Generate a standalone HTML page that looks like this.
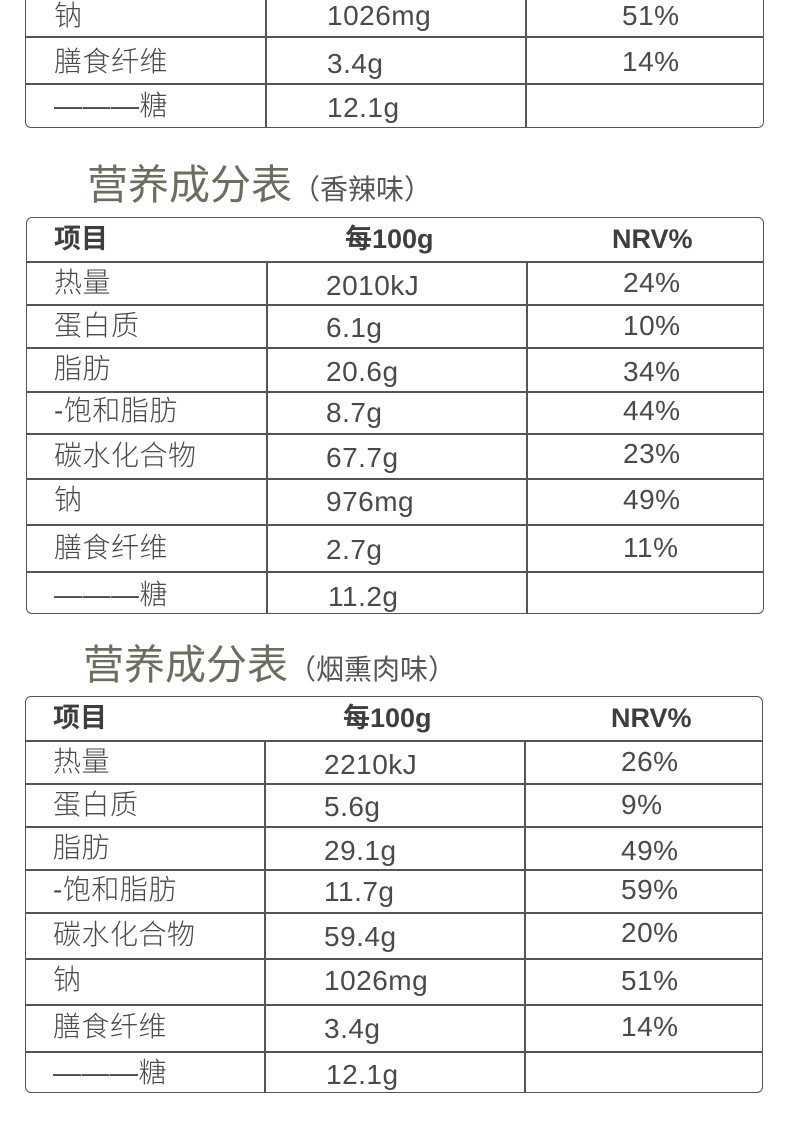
<!DOCTYPE html>
<html><head><meta charset="utf-8"><style>
body{margin:0;width:790px;height:1126px;background:#fff;position:relative;overflow:hidden;font-family:"Liberation Sans","Noto Sans CJK SC",sans-serif;color:#4a4a4a}
.b{position:absolute;border:1.5px solid #555;border-radius:6px;box-sizing:border-box}
.h{position:absolute;height:1.5px;background:#555}
.v{position:absolute;width:1.5px;background:#555}
.t{position:absolute;font-size:28px;line-height:30px;white-space:nowrap;font-weight:300;letter-spacing:0.5px}
.hd{position:absolute;font-size:27px;line-height:30px;font-weight:bold;color:#3e3e3e;white-space:nowrap}
.ti{position:absolute;font-size:41px;line-height:46px;color:#6b6e5e;white-space:nowrap}
.ti span{font-size:28px;color:#555}
</style></head><body>
<div class="b" style="left:25px;top:-20px;width:739px;height:148px"></div>
<div class="h" style="left:26px;top:36px;width:737px"></div>
<div class="h" style="left:26px;top:83px;width:737px"></div>
<div class="v" style="left:265px;top:0;height:127px"></div>
<div class="v" style="left:525px;top:0;height:127px"></div>
<div class="t" style="left:54px;top:1px">钠</div><div class="t" style="left:327px;top:1px">1026mg</div><div class="t" style="left:622px;top:1px">51%</div>
<div class="t" style="left:54px;top:47px">膳食纤维</div><div class="t" style="left:327px;top:49px">3.4g</div><div class="t" style="left:622px;top:47px">14%</div>
<div class="t" style="left:54px;top:91px">———糖</div><div class="t" style="left:327px;top:93px">12.1g</div>

<div class="ti" style="left:87px;top:162px">营养成分表<span>（香辣味）</span></div>
<div class="b" style="left:26px;top:217px;width:738px;height:397px"></div>
<div class="h" style="left:27px;top:261px;width:736px"></div>
<div class="h" style="left:27px;top:304px;width:736px"></div>
<div class="h" style="left:27px;top:347px;width:736px"></div>
<div class="h" style="left:27px;top:391px;width:736px"></div>
<div class="h" style="left:27px;top:433px;width:736px"></div>
<div class="h" style="left:27px;top:478px;width:736px"></div>
<div class="h" style="left:27px;top:524px;width:736px"></div>
<div class="h" style="left:27px;top:571px;width:736px"></div>
<div class="v" style="left:266px;top:261px;height:352px"></div>
<div class="v" style="left:526px;top:261px;height:352px"></div>
<div class="hd" style="left:54px;top:224px">项目</div><div class="hd" style="left:345px;top:224px">每100g</div><div class="hd" style="left:612px;top:224px">NRV%</div>
<div class="t" style="left:54px;top:268px">热量</div><div class="t" style="left:326px;top:271px">2010kJ</div><div class="t" style="left:623px;top:268px">24%</div>
<div class="t" style="left:54px;top:311px">蛋白质</div><div class="t" style="left:326px;top:313px">6.1g</div><div class="t" style="left:623px;top:311px">10%</div>
<div class="t" style="left:54px;top:354px">脂肪</div><div class="t" style="left:326px;top:357px">20.6g</div><div class="t" style="left:623px;top:357px">34%</div>
<div class="t" style="left:54px;top:396px">-饱和脂肪</div><div class="t" style="left:326px;top:398px">8.7g</div><div class="t" style="left:623px;top:396px">44%</div>
<div class="t" style="left:54px;top:441px">碳水化合物</div><div class="t" style="left:326px;top:443px">67.7g</div><div class="t" style="left:623px;top:439px">23%</div>
<div class="t" style="left:54px;top:485px">钠</div><div class="t" style="left:326px;top:487px">976mg</div><div class="t" style="left:623px;top:485px">49%</div>
<div class="t" style="left:54px;top:533px">膳食纤维</div><div class="t" style="left:326px;top:535px">2.7g</div><div class="t" style="left:623px;top:533px">11%</div>
<div class="t" style="left:54px;top:580px">———糖</div><div class="t" style="left:328px;top:582px">11.2g</div>

<div class="ti" style="left:83px;top:642px">营养成分表<span>（烟熏肉味）</span></div>
<div class="b" style="left:25px;top:696px;width:738px;height:397px"></div>
<div class="h" style="left:26px;top:740px;width:736px"></div>
<div class="h" style="left:26px;top:783px;width:736px"></div>
<div class="h" style="left:26px;top:826px;width:736px"></div>
<div class="h" style="left:26px;top:869px;width:736px"></div>
<div class="h" style="left:26px;top:912px;width:736px"></div>
<div class="h" style="left:26px;top:958px;width:736px"></div>
<div class="h" style="left:26px;top:1004px;width:736px"></div>
<div class="h" style="left:26px;top:1051px;width:736px"></div>
<div class="v" style="left:264px;top:740px;height:352px"></div>
<div class="v" style="left:524px;top:740px;height:352px"></div>
<div class="hd" style="left:53px;top:703px">项目</div><div class="hd" style="left:343px;top:703px">每100g</div><div class="hd" style="left:611px;top:703px">NRV%</div>
<div class="t" style="left:53px;top:747px">热量</div><div class="t" style="left:324px;top:750px">2210kJ</div><div class="t" style="left:621px;top:747px">26%</div>
<div class="t" style="left:53px;top:790px">蛋白质</div><div class="t" style="left:324px;top:792px">5.6g</div><div class="t" style="left:621px;top:790px">9%</div>
<div class="t" style="left:53px;top:833px">脂肪</div><div class="t" style="left:324px;top:836px">29.1g</div><div class="t" style="left:621px;top:836px">49%</div>
<div class="t" style="left:53px;top:875px">-饱和脂肪</div><div class="t" style="left:324px;top:877px">11.7g</div><div class="t" style="left:621px;top:875px">59%</div>
<div class="t" style="left:53px;top:920px">碳水化合物</div><div class="t" style="left:324px;top:922px">59.4g</div><div class="t" style="left:621px;top:918px">20%</div>
<div class="t" style="left:53px;top:965px">钠</div><div class="t" style="left:324px;top:966px">1026mg</div><div class="t" style="left:621px;top:966px">51%</div>
<div class="t" style="left:53px;top:1012px">膳食纤维</div><div class="t" style="left:324px;top:1014px">3.4g</div><div class="t" style="left:621px;top:1012px">14%</div>
<div class="t" style="left:53px;top:1058px">———糖</div><div class="t" style="left:326px;top:1060px">12.1g</div>
</body></html>
